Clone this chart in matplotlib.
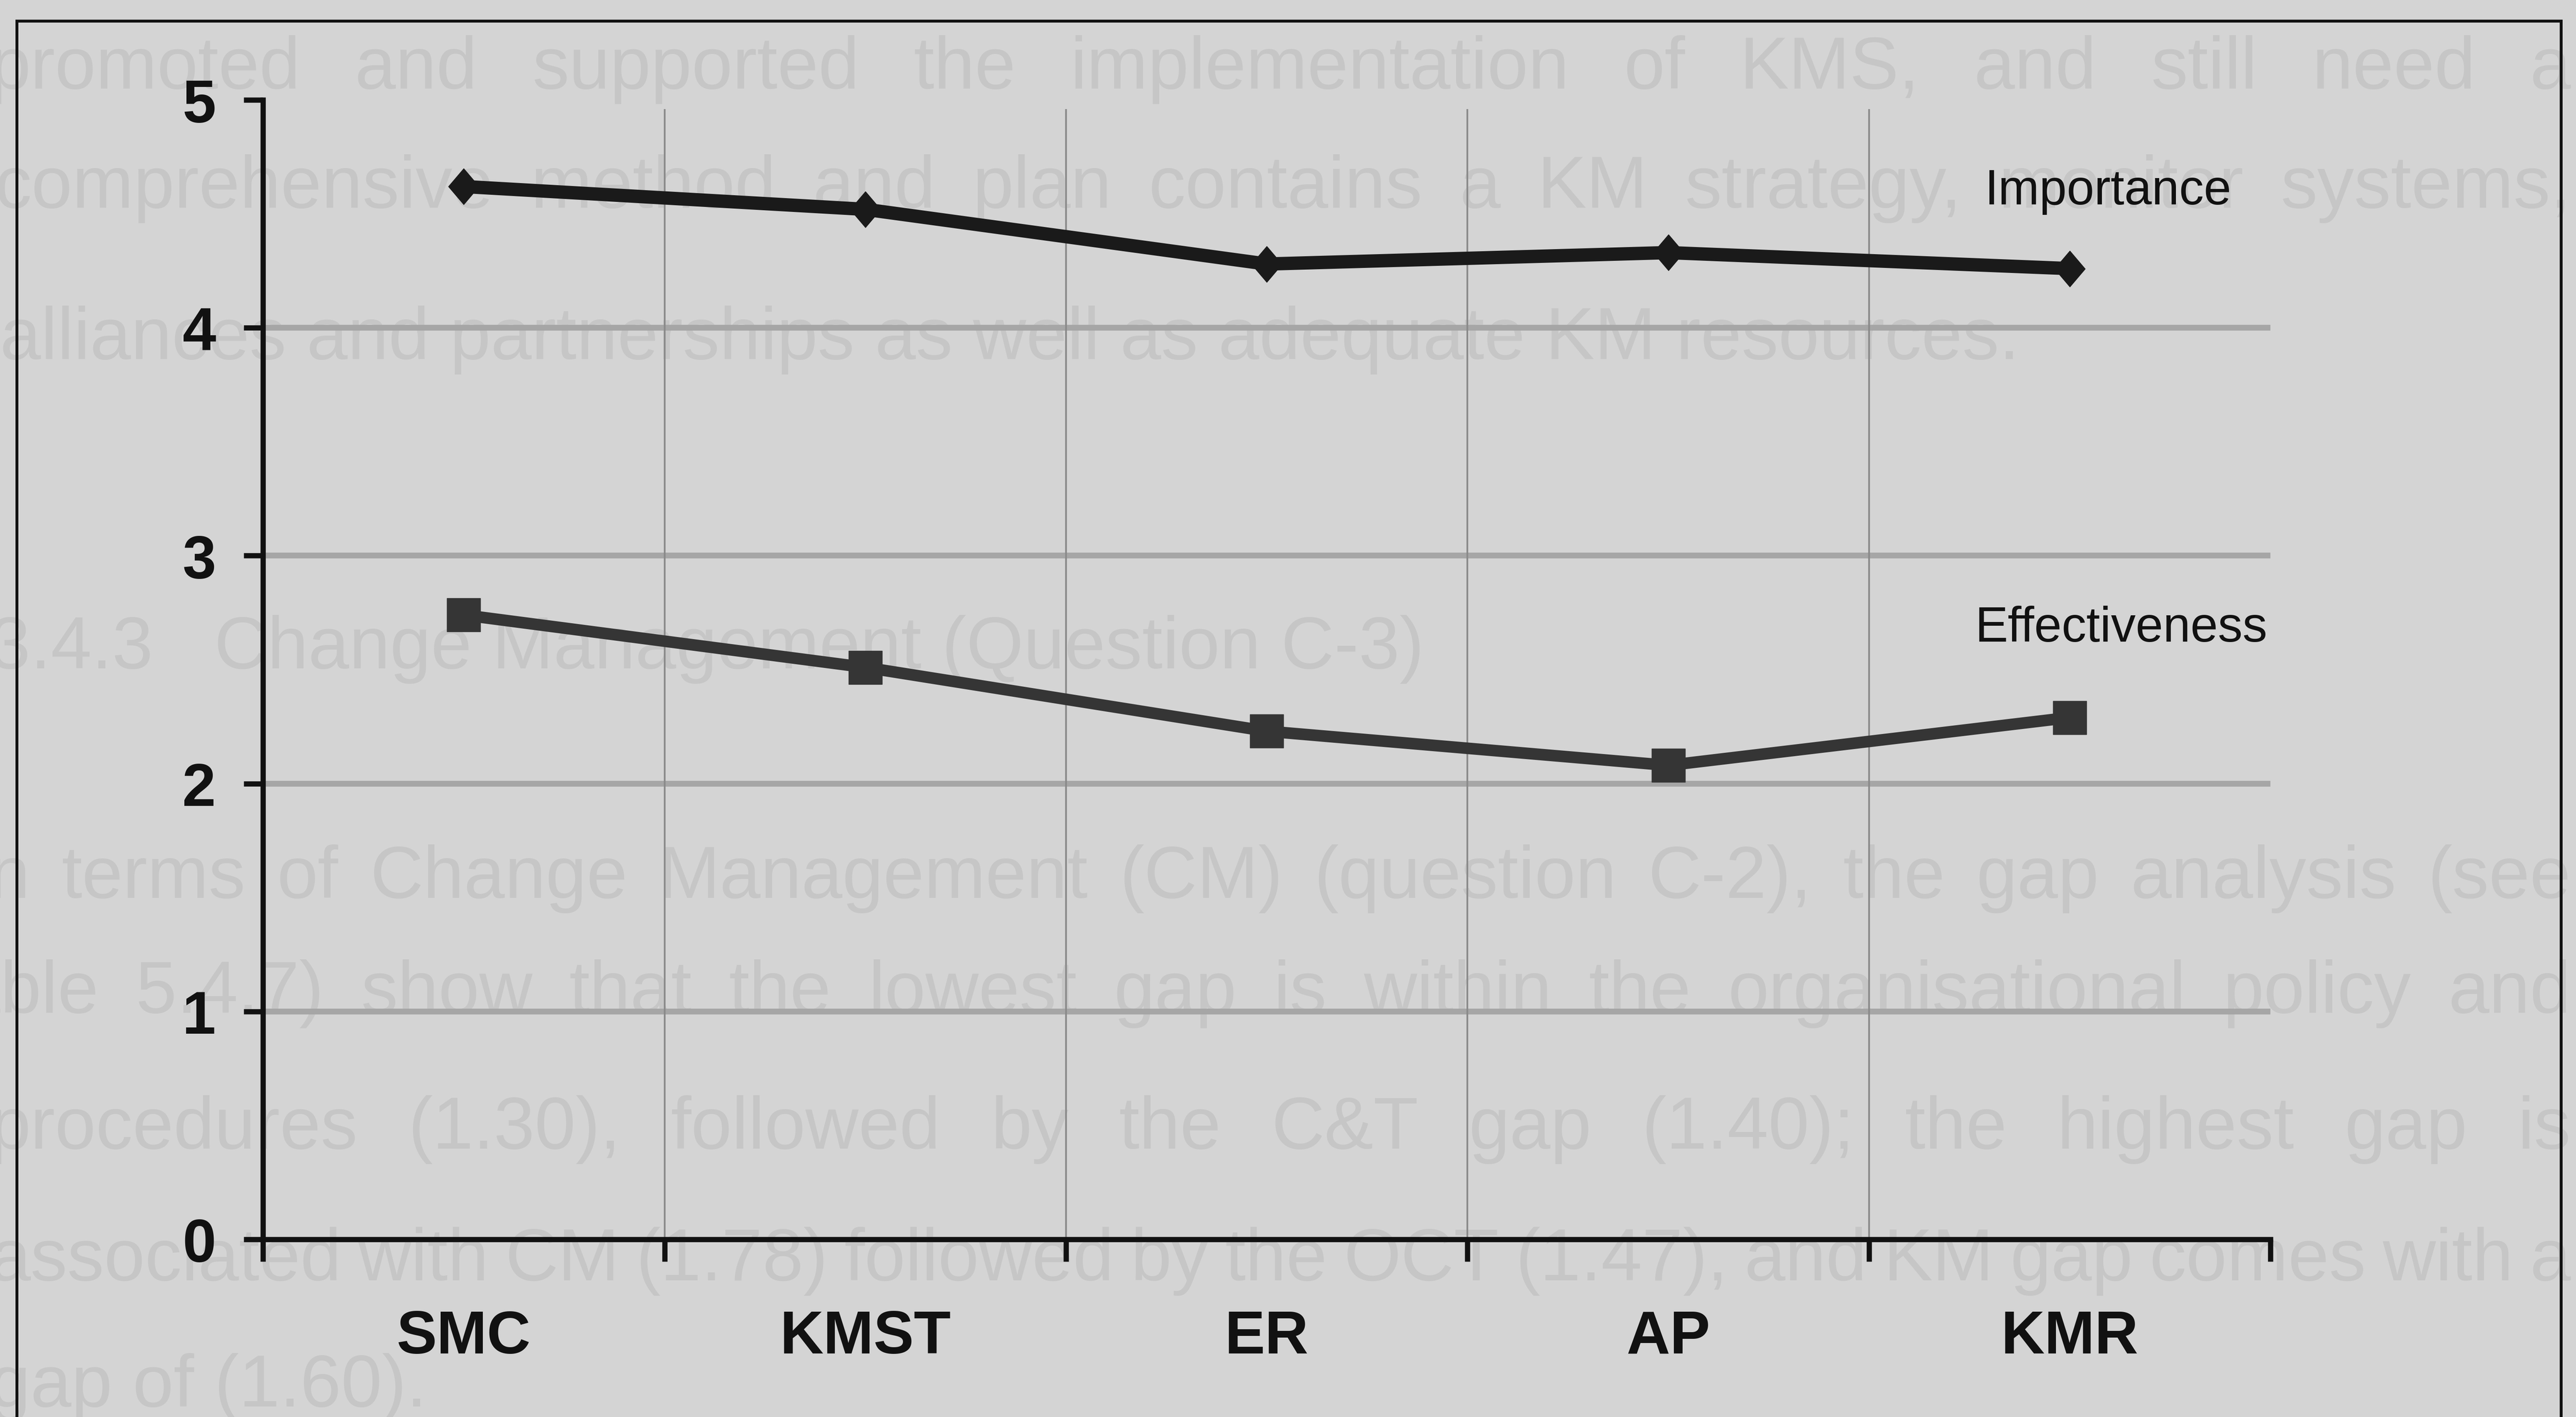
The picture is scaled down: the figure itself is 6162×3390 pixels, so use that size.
import numpy as np
import matplotlib
matplotlib.use('Agg')
import matplotlib.pyplot as plt
from matplotlib.lines import Line2D

categories = ['SMC', 'KMST', 'ER', 'AP', 'KMR']
importance = [4.62, 4.52, 4.28, 4.33, 4.26]
effectiveness = [2.74, 2.51, 2.23, 2.08, 2.29]
y_ticks = [0, 1, 2, 3, 4, 5]

# faint page text showing through the scanned chart
page_lines = [
    'promoted and supported the implementation of KMS, and still need a',
    'comprehensive method and plan contains a KM strategy, monitor systems,',
    'alliances and partnerships as well as adequate KM resources.',
    '3.4.3   Change Management (Question C-3)',
    'In terms of Change Management (CM) (question C-2), the gap analysis (see',
    'Table 5.4.7) show that the lowest gap is within the organisational policy and',
    'procedures (1.30), followed by the C&T gap (1.40); the highest gap is',
    'associated with CM (1.78) followed by the OCT (1.47), and KM gap comes with a',
    'gap of (1.60).',
]
page_y = [0.951, 0.867, 0.760, 0.542, 0.380, 0.299, 0.203, 0.110, 0.021]
page_justify = [True, True, False, False, True, True, True, True, False]
page_x0 = [-0.004, -0.002, 0.0, -0.004, -0.012, -0.03, -0.004, -0.004, -0.004]

plt.rcParams['font.family'] = ['Liberation Sans', 'DejaVu Sans']

fig = plt.figure(figsize=(61.62, 33.91), dpi=100, facecolor='#d4d4d4')
renderer = fig.canvas.get_renderer()
ghost = '#c6c6c6'


def width_of(t):
    return t.get_window_extent(renderer).width / fig.bbox.width


# fit page font so the short line spans its width
probe = fig.text(0, 0, page_lines[2], fontsize=100)
page_fs = 100 * 0.784 / width_of(probe)
probe.remove()

for line, y, just, x0 in zip(page_lines, page_y, page_justify, page_x0):
    if not just:
        fig.text(x0, y, line, fontsize=page_fs, color=ghost, va='center', zorder=-1)
        continue
    words = line.split()
    texts = [fig.text(0, y, w, fontsize=page_fs, color=ghost, va='center', zorder=-1) for w in words]
    widths = [width_of(t) for t in texts]
    gap = (0.998 - x0 - sum(widths)) / (len(words) - 1)
    x = x0
    for t, w in zip(texts, widths):
        t.set_x(x)
        x += w + gap

# outer frame (open at the bottom)
for xs, ys in [([0.0065, 0.0065], [0, 0.985]), ([0.0065, 0.9942], [0.985, 0.985]),
               ([0.9942, 0.9942], [0.985, 0])]:
    fig.add_artist(Line2D(xs, ys, transform=fig.transFigure, color='#111111', lw=5))

ax = fig.add_axes([0.1021, 0.1253, 0.7793, 0.8039])
ax.set_zorder(1)
ax.set_facecolor('none')
ax.set_xlim(0, 5)
ax.set_ylim(0, 5)
for s in ['top', 'right']:
    ax.spines[s].set_visible(False)
for s in ['left', 'bottom']:
    ax.spines[s].set_linewidth(9)
    ax.spines[s].set_color('#111111')

ax.set_xticks(range(6))
ax.set_xticklabels([])
ax.set_xticks(np.arange(len(categories)) + 0.5, minor=True)
ax.set_xticklabels(categories, minor=True, fontsize=104, fontweight='bold', color='#111111')
ax.tick_params(axis='x', which='major', length=38, width=9, color='#111111')
ax.tick_params(axis='x', which='minor', length=0, pad=120)
ax.set_yticks(y_ticks)
ax.set_yticklabels([str(v) for v in y_ticks], fontsize=104, fontweight='bold', color='#111111')
ax.tick_params(axis='y', length=33, width=9, pad=48, color='#111111')

ax.hlines(y_ticks[1:-1], 0, 5, color='#a6a6a6', lw=10, zorder=1)
ax.vlines(range(1, 5), 0, 4.96, color='#8a8a8a', lw=3, zorder=1)

x = np.arange(len(categories)) + 0.5
diamond = [(0, 1), (0.85, 0), (0, -1), (-0.85, 0), (0, 1)]
ax.plot(x, importance, color='#1a1a1a', lw=23, marker=diamond, ms=62, zorder=3, clip_on=False)
ax.plot(x, effectiveness, color='#353535', lw=20, marker='s', ms=58, zorder=3, clip_on=False)

ax.text(4.288, 4.60, 'Importance', fontsize=85, va='center', ha='left', color='#111111')
ax.text(4.264, 2.68, 'Effectiveness', fontsize=85, va='center', ha='left', color='#111111')

fig.savefig('out.png', dpi=100, facecolor=fig.get_facecolor())
